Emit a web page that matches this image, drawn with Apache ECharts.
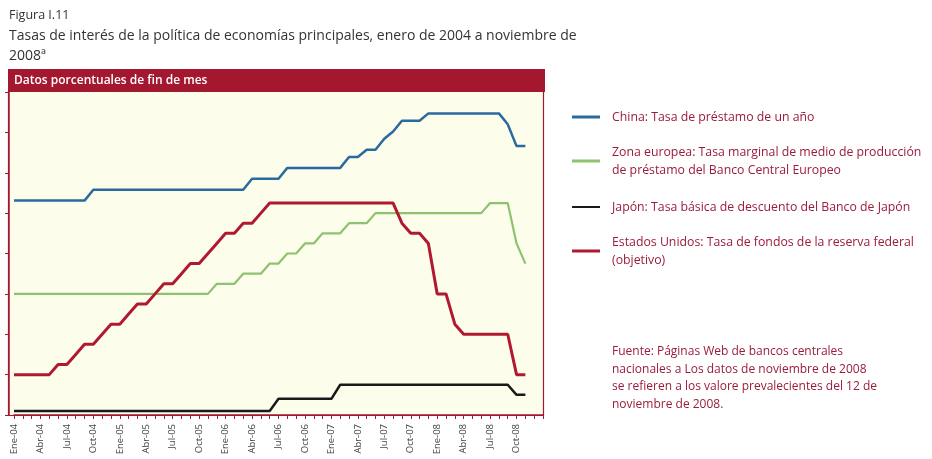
<!DOCTYPE html>
<html>
<head>
<meta charset="utf-8">
<script src="https://cdn.jsdelivr.net/npm/echarts@6/dist/echarts.min.js"></script>
<style>
  html, body { margin: 0; padding: 0; background: #fff; }
  #chart { width: 932px; height: 459px; }
</style>
</head>
<body>
<div id="chart"></div>
<script>
// meses ene-2004 .. nov-2008, plus two empty slots so the frame runs past the data
const months = [
  'Ene-04','Feb-04','Mar-04','Abr-04','May-04','Jun-04','Jul-04','Ago-04','Sep-04','Oct-04','Nov-04','Dic-04',
  'Ene-05','Feb-05','Mar-05','Abr-05','May-05','Jun-05','Jul-05','Ago-05','Sep-05','Oct-05','Nov-05','Dic-05',
  'Ene-06','Feb-06','Mar-06','Abr-06','May-06','Jun-06','Jul-06','Ago-06','Sep-06','Oct-06','Nov-06','Dic-06',
  'Ene-07','Feb-07','Mar-07','Abr-07','May-07','Jun-07','Jul-07','Ago-07','Sep-07','Oct-07','Nov-07','Dic-07',
  'Ene-08','Feb-08','Mar-08','Abr-08','May-08','Jun-08','Jul-08','Ago-08','Sep-08','Oct-08','Nov-08',
  ' ', '  '
]

const china = [
  5.31,5.31,5.31,5.31,5.31,5.31,5.31,5.31,5.31,5.58,5.58,5.58,
  5.58,5.58,5.58,5.58,5.58,5.58,5.58,5.58,5.58,5.58,5.58,5.58,
  5.58,5.58,5.58,5.85,5.85,5.85,5.85,6.12,6.12,6.12,6.12,6.12,
  6.12,6.12,6.39,6.39,6.57,6.57,6.84,7.02,7.29,7.29,7.29,7.47,
  7.47,7.47,7.47,7.47,7.47,7.47,7.47,7.47,7.20,6.66,6.66
]
const zonaEuro = [
  3.00,3.00,3.00,3.00,3.00,3.00,3.00,3.00,3.00,3.00,3.00,3.00,
  3.00,3.00,3.00,3.00,3.00,3.00,3.00,3.00,3.00,3.00,3.00,3.25,
  3.25,3.25,3.50,3.50,3.50,3.75,3.75,4.00,4.00,4.25,4.25,4.50,
  4.50,4.50,4.75,4.75,4.75,5.00,5.00,5.00,5.00,5.00,5.00,5.00,
  5.00,5.00,5.00,5.00,5.00,5.00,5.25,5.25,5.25,4.25,3.75
]
const japon = [
  0.10,0.10,0.10,0.10,0.10,0.10,0.10,0.10,0.10,0.10,0.10,0.10,
  0.10,0.10,0.10,0.10,0.10,0.10,0.10,0.10,0.10,0.10,0.10,0.10,
  0.10,0.10,0.10,0.10,0.10,0.10,0.40,0.40,0.40,0.40,0.40,0.40,
  0.40,0.75,0.75,0.75,0.75,0.75,0.75,0.75,0.75,0.75,0.75,0.75,
  0.75,0.75,0.75,0.75,0.75,0.75,0.75,0.75,0.75,0.50,0.50
]
const eeuu = [
  1.00,1.00,1.00,1.00,1.00,1.25,1.25,1.50,1.75,1.75,2.00,2.25,
  2.25,2.50,2.75,2.75,3.00,3.25,3.25,3.50,3.75,3.75,4.00,4.25,
  4.50,4.50,4.75,4.75,5.00,5.25,5.25,5.25,5.25,5.25,5.25,5.25,
  5.25,5.25,5.25,5.25,5.25,5.25,5.25,5.25,4.75,4.50,4.50,4.25,
  3.00,3.00,2.25,2.00,2.00,2.00,2.00,2.00,2.00,1.00,1.00
]

const legendText = {
  'China': 'China: Tasa de préstamo de un año',
  'Zona europea': 'Zona europea: Tasa marginal de medio de producción\nde préstamo del Banco Central Europeo',
  'Japón': 'Japón: Tasa básica de descuento del Banco de Japón',
  'Estados Unidos': 'Estados Unidos: Tasa de fondos de la reserva federal\n(objetivo)'
}

const red = '#a3172f'
const textRed = '#9b1c3c'
const font = '"Open Sans", "Noto Sans", sans-serif'

const chart = echarts.init(document.getElementById('chart'))

function legendFor(name, top, h) {
  return {
    data: [name],
    left: 572,
    top: top,
    padding: 0,
    icon: 'rect',
    itemWidth: 28,
    itemHeight: h,
    formatter: n => legendText[n],
    textStyle: {
      color: textRed,
      fontSize: 12.3,
      fontFamily: font,
      lineHeight: 18,
      padding: [0, 0, 0, 7]
    }
  }
}

function lineSeries(name, data, color, width) {
  return {
    name,
    type: 'line',
    data,
    symbol: 'none',
    silent: true,
    lineStyle: { color, width },
    itemStyle: { color }
  }
}

const option = {
  animation: false,
  textStyle: { fontFamily: font },
  title: [
    {
      text: 'Figura I.11',
      left: 9, top: 9, padding: 0,
      textStyle: { fontSize: 12.5, fontWeight: 'normal', color: '#333', fontFamily: font }
    },
    {
      text: 'Tasas de interés de la política de economías principales, enero de 2004 a noviembre de\n2008ª',
      left: 9, top: 26, padding: 0,
      textStyle: { fontSize: 14, fontWeight: 'normal', color: '#333', lineHeight: 20, fontFamily: font }
    }
  ],
  legend: [
    legendFor('China', 108, 3),
    legendFor('Zona europea', 143, 3),
    legendFor('Japón', 198, 2),
    legendFor('Estados Unidos', 233, 3)
  ],
  grid: { left: 14, right: 389, top: 92, bottom: 44 },
  xAxis: {
    type: 'category',
    data: months,
    boundaryGap: false,
    axisLine: { lineStyle: { color: red, width: 1.5 } },
    axisTick: { show: true, interval: 0, length: 4, lineStyle: { color: red } },
    axisLabel: {
      interval: 2,
      rotate: 90,
      margin: 9,
      fontSize: 9.5,
      color: '#444',
      fontFamily: font
    }
  },
  yAxis: {
    type: 'value',
    min: 0,
    max: 8,
    interval: 1,
    offset: 5,
    axisLine: { show: true, lineStyle: { color: red, width: 1.5 } },
    axisTick: { show: true, length: 4, lineStyle: { color: red } },
    axisLabel: { show: false },
    splitLine: { show: false }
  },
  graphic: [
    {
      type: 'rect',
      z: -10,
      shape: { x: 8.5, y: 91.5, width: 535, height: 324 },
      style: { fill: '#fdfdec', stroke: red, lineWidth: 1.2 }
    },
    {
      type: 'rect',
      shape: { x: 8, y: 69, width: 537, height: 23 },
      style: { fill: red }
    },
    {
      type: 'text',
      x: 14, y: 81,
      style: {
        text: 'Datos porcentuales de fin de mes',
        fill: '#fff',
        font: '600 12px ' + font,
        verticalAlign: 'middle'
      }
    },
    {
      type: 'text',
      x: 612, y: 343,
      style: {
        text: 'Fuente: Páginas Web de bancos centrales\nnacionales a Los datos de noviembre de 2008\nse refieren a los valore prevalecientes del 12 de\nnoviembre de 2008.',
        fill: textRed,
        font: '12px ' + font,
        lineHeight: 17.5
      }
    }
  ],
  series: [
    lineSeries('China', china, '#2a6a9e', 2.5),
    lineSeries('Zona europea', zonaEuro, '#8dc26f', 2.2),
    lineSeries('Japón', japon, '#1a1a1a', 2.5),
    lineSeries('Estados Unidos', eeuu, '#b0192f', 3)
  ]
}

chart.setOption(option)
</script>
</body>
</html>
